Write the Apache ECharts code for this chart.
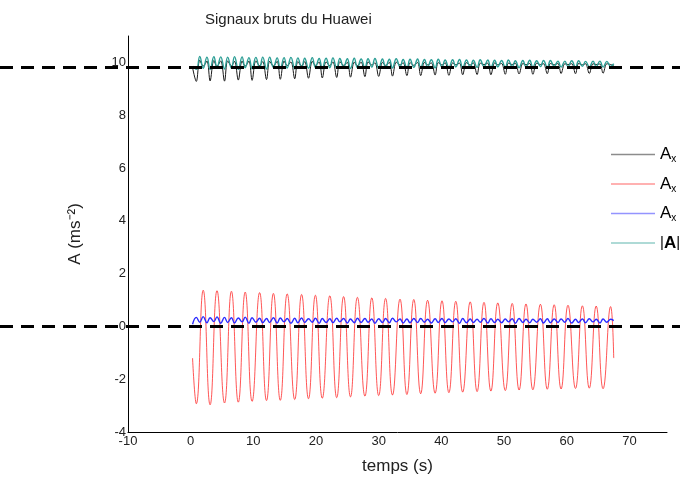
<!DOCTYPE html>
<html><head><meta charset="utf-8">
<script src="https://cdn.jsdelivr.net/npm/echarts@6/dist/echarts.min.js"></script>
<style>html,body{margin:0;padding:0;background:#fff}#c{width:680px;height:482px}</style>
</head><body><div id="c"></div>
<script>
// X tick labels: -10..70 step 10 ; Y tick labels: -4..10 step 2
var xTicks = [-10, 0, 10, 20, 30, 40, 50, 60, 70];
var yTicks = [-4, -2, 0, 2, 4, 6, 8, 10];
var refLevels = [9.81, 0];

// red signal: times of its extrema (troughs / peaks) and values
var redT = [0.3, 0.9, 2.0, 3.1, 4.2, 5.4, 6.5, 7.6, 8.7, 9.8, 11.0, 12.1, 13.2, 14.3, 15.4, 16.6, 17.7, 18.8, 19.9, 21.0, 22.2, 23.3, 24.4, 25.5, 26.6, 27.8, 28.9, 30.0, 31.1, 32.2, 33.4, 34.5, 35.6, 36.7, 37.8, 39.0, 40.1, 41.2, 42.3, 43.4, 44.6, 45.7, 46.8, 47.9, 49.0, 50.2, 51.3, 52.4, 53.5, 54.6, 55.8, 56.9, 58.0, 59.1, 60.2, 61.4, 62.5, 63.6, 64.7, 65.8, 67.0, 67.5];
var redV = [-1.2,
 -2.93, 1.37, -2.97, 1.35, -2.90, 1.33, -2.87, 1.30, -2.84, 1.28, -2.81, 1.25, -2.80, 1.23, -2.77, 1.21,
 -2.74, 1.18, -2.72, 1.16, -2.70, 1.13, -2.67, 1.10, -2.64, 1.08, -2.62, 1.06, -2.60, 1.03, -2.58, 1.02,
 -2.55, 0.99, -2.53, 0.97, -2.51, 0.95, -2.49, 0.93, -2.47, 0.91, -2.45, 0.89, -2.43, 0.87, -2.41, 0.85,
 -2.40, 0.84, -2.38, 0.82, -2.37, 0.80, -2.35, 0.78, -2.34, 0.77, -2.36, 0.75,
 -1.2];

// finer time grid used by the other three signals
var fineT = [0.3,
 0.9, 1.45, 2.0, 2.6, 3.1, 3.7, 4.2, 4.8, 5.4, 5.9, 6.5, 7.0, 7.6, 8.2, 8.7, 9.3,
 9.8, 10.4, 11.0, 11.5, 12.1, 12.6, 13.2, 13.8, 14.3, 14.9, 15.4, 16.0, 16.6, 17.1, 17.7, 18.2,
 18.8, 19.4, 19.9, 20.5, 21.0, 21.6, 22.2, 22.7, 23.3, 23.8, 24.4, 25.0, 25.5, 26.1, 26.6, 27.2,
 27.8, 28.3, 28.9, 29.4, 30.0, 30.6, 31.1, 31.7, 32.2, 32.8, 33.4, 33.9, 34.5, 35.0, 35.6, 36.2,
 36.7, 37.3, 37.8, 38.4, 39.0, 39.5, 40.1, 40.6, 41.2, 41.8, 42.3, 42.9, 43.4, 44.0, 44.6, 45.1,
 45.7, 46.2, 46.8, 47.4, 47.9, 48.5, 49.0, 49.6, 50.2, 50.7, 51.3, 51.8, 52.4, 53.0, 53.5, 54.1,
 54.6, 55.2, 55.8, 56.3, 56.9, 57.4, 58.0, 58.6, 59.1, 59.7, 60.2, 60.8, 61.4, 61.9, 62.5, 63.0,
 63.6, 64.2, 64.7, 65.3, 65.8, 66.4, 67.0, 67.5];

var blueV = [0.08,
 0.34, 0.16, 0.37, 0.14, 0.33, 0.18, 0.36, 0.12, 0.34, 0.15, 0.33, 0.13, 0.32, 0.17, 0.35, 0.12,
 0.33, 0.16, 0.31, 0.14, 0.30, 0.15, 0.33, 0.13, 0.32, 0.17, 0.30, 0.12, 0.31, 0.14, 0.32, 0.15,
 0.29, 0.16, 0.31, 0.12, 0.30, 0.15, 0.29, 0.14, 0.31, 0.17, 0.30, 0.13, 0.28, 0.14, 0.31, 0.15,
 0.30, 0.16, 0.28, 0.12, 0.29, 0.15, 0.30, 0.14, 0.31, 0.17, 0.28, 0.13, 0.28, 0.14, 0.30, 0.15,
 0.30, 0.16, 0.27, 0.13, 0.29, 0.15, 0.30, 0.14, 0.28, 0.17, 0.29, 0.12, 0.30, 0.14, 0.28, 0.15,
 0.27, 0.16, 0.30, 0.13, 0.29, 0.15, 0.27, 0.14, 0.28, 0.17, 0.29, 0.12, 0.30, 0.15, 0.27, 0.14,
 0.27, 0.16, 0.29, 0.13, 0.29, 0.14, 0.28, 0.15, 0.28, 0.16, 0.30, 0.13, 0.27, 0.15, 0.28, 0.14,
 0.29, 0.17, 0.27, 0.13, 0.28, 0.16, 0.27, 0.22];

var tealV = [9.85,
 9.74, 10.23, 9.78, 10.20, 9.73, 10.22, 9.80, 10.21, 9.75, 10.20, 9.78, 10.22, 9.74, 10.21, 9.80, 10.18,
 9.76, 10.19, 9.79, 10.20, 9.75, 10.20, 9.81, 10.17, 9.77, 10.18, 9.79, 10.19, 9.76, 10.17, 9.80, 10.16,
 9.78, 10.18, 9.81, 10.15, 9.76, 10.16, 9.80, 10.17, 9.78, 10.15, 9.82, 10.14, 9.77, 10.16, 9.80, 10.13,
 9.79, 10.14, 9.82, 10.15, 9.78, 10.13, 9.81, 10.12, 9.79, 10.14, 9.83, 10.11, 9.78, 10.12, 9.81, 10.13,
 9.80, 10.11, 9.83, 10.10, 9.79, 10.12, 9.82, 10.09, 9.80, 10.10, 9.83, 10.11, 9.79, 10.09, 9.82, 10.08,
 9.81, 10.10, 9.84, 10.09, 9.80, 10.08, 9.83, 10.07, 9.81, 10.09, 9.84, 10.06, 9.80, 10.07, 9.83, 10.08,
 9.82, 10.06, 9.84, 10.07, 9.81, 10.07, 9.85, 10.05, 9.82, 10.05, 9.84, 10.06, 9.81, 10.06, 9.85, 10.04,
 9.83, 10.05, 9.84, 10.05, 9.82, 10.04, 9.85, 9.95];

var blackV = [9.80,
 9.28, 10.08, 9.86, 10.05, 9.30, 10.07, 9.85, 10.06, 9.29, 10.06, 9.87, 10.04, 9.33, 10.05, 9.86, 10.05,
 9.32, 10.06, 9.88, 10.03, 9.35, 10.04, 9.87, 10.04, 9.36, 10.05, 9.88, 10.02, 9.38, 10.03, 9.87, 10.03,
 9.40, 10.04, 9.89, 10.01, 9.41, 10.02, 9.88, 10.02, 9.43, 10.03, 9.89, 10.00, 9.44, 10.01, 9.88, 10.01,
 9.46, 10.02, 9.90, 9.99, 9.47, 10.00, 9.89, 10.00, 9.48, 10.01, 9.90, 9.99, 9.50, 9.99, 9.89, 10.00,
 9.50, 10.00, 9.91, 9.98, 9.52, 9.99, 9.90, 9.99, 9.51, 9.98, 9.91, 9.97, 9.53, 9.99, 9.90, 9.98,
 9.54, 9.97, 9.92, 9.97, 9.53, 9.98, 9.91, 9.96, 9.55, 9.97, 9.92, 9.97, 9.56, 9.96, 9.91, 9.96,
 9.55, 9.97, 9.92, 9.95, 9.57, 9.96, 9.91, 9.96, 9.58, 9.95, 9.92, 9.95, 9.57, 9.96, 9.91, 9.95,
 9.58, 9.95, 9.92, 9.94, 9.59, 9.95, 9.92, 9.88];

var seriesNames = ['Ax', 'Ay', 'Az', '|A|'];

function pairs(t, v) { return t.map(function (x, i) { return [x, v[i]]; }); }

var FONT = 'Liberation Sans, Arial, sans-serif';
var chart = echarts.init(document.getElementById('c'), null, { renderer: 'canvas' });

function refSeries(level) {
  return {
    type: 'line', xAxisIndex: 1, yAxisIndex: 1, silent: true, symbol: 'none', z: 10,
    data: [[0, level], [1, level]],
    lineStyle: { color: '#000', width: 3, type: [13, 8] }
  };
}

chart.setOption({
  animation: false,
  textStyle: { fontFamily: FONT },
  title: {
    text: 'Signaux bruts du Huawei', left: 200, top: 7,
    textStyle: { fontSize: 15, fontWeight: 'normal', color: '#222', fontFamily: FONT }
  },
  legend: {
    data: seriesNames, orient: 'vertical', left: 606, top: 141,
    icon: 'rect', itemWidth: 44, itemHeight: 1.5, itemGap: 11,
    itemStyle: { opacity: 0.5 },
    formatter: function (n) { return n === '|A|' ? '{n||}{b|A}{n||}' : '{a|A}{s|x}'; },
    textStyle: {
      color: '#000',
      rich: {
        a: { fontSize: 17, fontFamily: FONT, color: '#000' },
        n: { fontSize: 15, fontFamily: FONT, color: '#000' },
        b: { fontSize: 17, fontFamily: FONT, color: '#000', fontWeight: 'bold' },
        s: { fontSize: 10, fontFamily: FONT, color: '#000', padding: [10, 0, 0, 0] }
      }
    }
  },
  grid: [
    { left: 128, right: 13, top: 36, bottom: 50, containLabel: false },
    { left: 0, right: 0, top: 36, bottom: 50, containLabel: false }
  ],
  xAxis: [
    {
      type: 'value', gridIndex: 0, min: xTicks[0], max: 76, interval: 10,
      name: 'temps (s)', nameLocation: 'middle', nameGap: 26,
      nameTextStyle: { fontSize: 17, color: '#222', fontFamily: FONT },
      axisLine: { show: true, onZero: false, lineStyle: { color: '#000', width: 1 } },
      axisTick: { show: false }, splitLine: { show: false },
      axisLabel: { showMaxLabel: false, margin: 3, fontSize: 13, color: '#222', fontFamily: FONT }
    },
    { type: 'value', gridIndex: 1, min: 0, max: 1, show: false }
  ],
  yAxis: [
    {
      type: 'value', gridIndex: 0, min: yTicks[0], max: 11, interval: 2,
      name: 'A (ms\u207B\u00B2)', nameLocation: 'middle', nameGap: 44,
      nameTextStyle: { fontSize: 17, color: '#222', fontFamily: FONT },
      axisLine: { show: true, onZero: false, lineStyle: { color: '#000', width: 1 } },
      axisTick: { show: false }, splitLine: { show: false },
      axisLabel: { showMaxLabel: false, margin: 2, fontSize: 13, color: '#222', fontFamily: FONT }
    },
    { type: 'value', gridIndex: 1, min: yTicks[0], max: 11, show: false }
  ],
  series: [
    { name: seriesNames[0], type: 'line', symbol: 'none', smooth: 0.35, data: pairs(fineT, blackV),
      lineStyle: { color: '#1a1a1a', width: 1 }, itemStyle: { color: '#1a1a1a' } },
    { name: seriesNames[1], type: 'line', symbol: 'none', smooth: 0.5, data: pairs(redT, redV),
      lineStyle: { color: 'rgba(255,30,30,0.75)', width: 1 }, itemStyle: { color: '#ff3030' } },
    { name: seriesNames[2], type: 'line', symbol: 'none', smooth: 0.45, data: pairs(fineT, blueV),
      lineStyle: { color: '#2a2aff', width: 1.4 }, itemStyle: { color: '#2a2aff' } },
    { name: seriesNames[3], type: 'line', symbol: 'none', smooth: 0.45, data: pairs(fineT, tealV),
      lineStyle: { color: '#2a9d94', width: 1.4 }, itemStyle: { color: '#2a9d94' } },
    refSeries(refLevels[0]),
    refSeries(refLevels[1])
  ]
});
</script>
</body></html>
